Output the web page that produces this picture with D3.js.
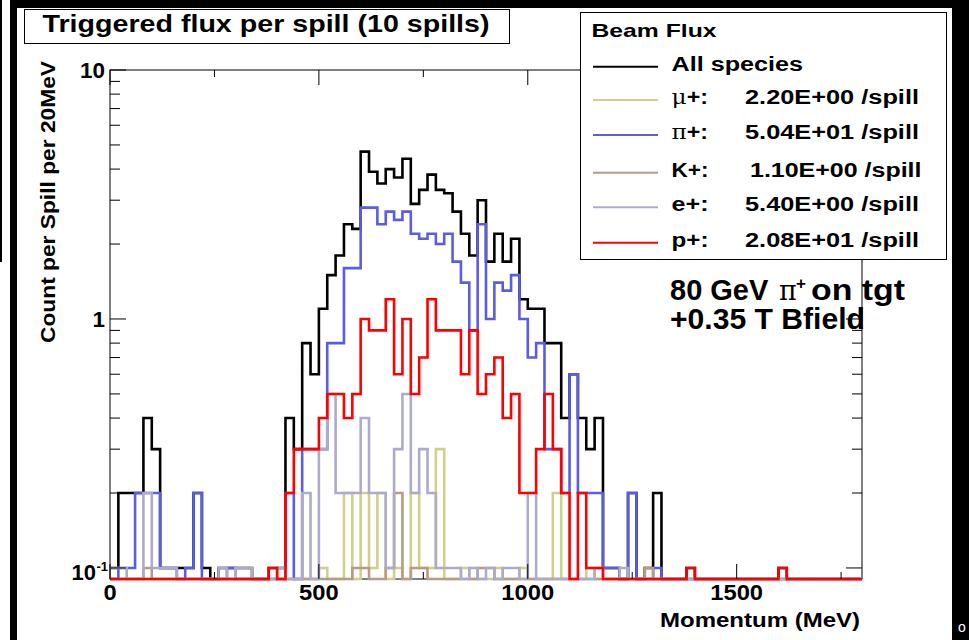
<!DOCTYPE html>
<html><head><meta charset="utf-8">
<script src="https://cdn.jsdelivr.net/npm/d3@7"></script>
<style>
html,body{margin:0;padding:0;background:#fff;}
svg{display:block;}
text{font-family:"Liberation Sans",Arial,Helvetica,sans-serif;font-weight:bold;fill:#000;}
</style></head>
<body>
<svg id="c" width="969" height="640"></svg>
<script>
// ---------- data (per-spill counts per 20 MeV bin, 0..1800 MeV) ----------
const binEdges = d3.range(0, 1801, 20);
const allSpecies = [0.1,0.2,0.2,0.2,0.4,0.3,0.1,0.1,0.1,0.1,
  0.2,0.1,0,0.1,0.1,0.1,0.1,0,0,0.1,
  0.1,0.4,0.3,0.8,0.6,1.1,1.5,1.8,2.4,2.3,
  4.7,3.9,3.5,4.0,3.7,4.4,2.9,3.3,3.8,3.3,
  3.2,2.7,2.2,1.8,3.0,1.7,2.2,1.7,2.1,1.2,
  1.1,1.1,0.8,0.8,0.4,0.6,0.4,0.3,0.4,0.1,
  0.1,0,0.2,0,0.1,0.2,0,0,0,0.1,
  0,0,0,0,0,0,0,0,0,0,
  0.1,0,0,0,0,0,0,0,0,0];
const muPlus = [0,0,0,0,0,0,0,0,0,0,
  0,0,0,0,0,0,0,0,0,0,
  0,0,0,0,0,0.1,0,0,0.2,0,
  0.2,0.1,0.2,0,0.1,0,0.2,0.1,0.1,0.3,
  0,0,0.1,0,0,0,0.1,0,0,0.1,
  0,0,0,0.2,0,0,0,0.1,0,0,
  0,0,0,0,0,0,0,0,0,0,
  0,0,0,0,0,0,0,0,0,0,
  0,0,0,0,0,0,0,0,0,0];
const piPlus = [0,0.1,0.1,0.2,0.2,0.2,0.1,0.1,0,0.1,
  0.2,0,0,0,0.1,0,0,0,0,0,
  0,0.2,0,0.3,0.3,0.3,0.8,0.8,1.6,1.6,
  2.8,2.8,2.4,2.7,2.5,2.7,2.2,2.1,2.2,2.0,
  2.2,1.7,1.4,0.9,2.4,1.0,1.4,1.3,1.5,1.0,
  0.7,0.8,0.3,0.3,0.2,0.6,0.2,0.2,0.2,0.1,
  0.1,0,0.2,0,0,0.1,0,0,0,0,
  0,0,0,0,0,0,0,0,0,0,
  0,0,0,0,0,0,0,0,0,0];
const kPlus = [0,0,0,0,0.1,0,0,0,0,0,
  0,0,0,0,0,0,0,0,0,0,
  0,0,0,0,0,0,0,0,0,0.1,
  0.1,0,0,0.1,0.2,0,0.1,0.1,0,0,
  0,0,0,0,0.1,0.1,0,0,0,0,
  0,0,0,0,0,0,0,0,0,0,
  0,0,0,0,0.1,0,0,0,0,0,
  0,0,0,0,0,0,0,0,0,0,
  0,0,0,0,0,0,0,0,0,0];
const ePlus = [0.1,0.1,0,0,0.2,0.1,0.1,0.1,0,0,
  0,0,0,0.1,0,0.1,0.1,0,0,0,
  0.1,0,0,0.2,0,0.3,0.5,0.2,0.2,0.2,
  0.4,0.2,0.2,0.1,0.3,0.5,0.2,0.3,0.2,0.1,
  0.1,0.1,0,0.1,0,0.1,0,0.1,0.1,0,
  0.2,0,0,0,0,0,0,0,0.1,0,
  0,0.1,0,0,0,0,0,0,0,0,
  0,0,0,0,0,0,0,0,0,0,
  0,0,0,0,0,0,0,0,0,0];
const pPlus = [0,0,0,0,0,0,0,0,0,0,
  0,0,0,0,0,0,0,0,0,0.1,
  0,0.2,0.3,0.3,0.3,0.4,0.5,0.5,0.4,0.5,
  1.0,0.9,0.9,1.2,0.6,1.0,0.5,0.7,1.2,0.9,
  0.9,0.9,0.6,0.9,0.5,0.6,0.7,0.4,0.5,0.2,
  0.2,0.3,0.5,0.3,0.2,0,0.2,0.1,0.1,0,
  0,0,0,0,0,0,0,0,0,0.1,
  0,0,0,0,0,0,0,0,0,0,
  0.1,0,0,0,0,0,0,0,0,0];

const seriesSymbols = ["", "\u03bc", "\u03c0", "", "", ""];
const seriesNames = ["All species","+:","+:","K+:","e+:","p+:"];
const seriesTotals = ["","2.20E+00 /spill","5.04E+01 /spill","1.10E+00 /spill","5.40E+00 /spill","2.08E+01 /spill"];
const seriesColors = ["#000000","#d2ce8c","#5b5be3","#b89c82","#adabca","#ff0000"];
const seriesData = [allSpecies, muPlus, piPlus, kPlus, ePlus, pPlus];
const xTickValues = [0,500,1000,1500];
const xMinorTicks = [250,750,1250,1750];

// ---------- layout ----------
const svg = d3.select("#c");
const L = 110, R = 862, T = 70, B = 579;
const yMin = 0.0903;
const x = d3.scaleLinear().domain([0,1800]).range([L,R]);
const y = d3.scaleLog().domain([yMin,10]).range([B,T]);
const yv = v => y(Math.max(v, yMin));
const stretch = (sel,w) => sel.attr("textLength",w).attr("lengthAdjust","spacingAndGlyphs");

// window chrome (black borders of the screenshot)
svg.append("rect").attr("x",0).attr("y",0).attr("width",969).attr("height",640).attr("fill","#fff");
svg.append("rect").attr("x",17).attr("y",0).attr("width",952).attr("height",8).attr("fill","#000");
svg.append("rect").attr("x",10).attr("y",0).attr("width",7).attr("height",640).attr("fill","#000");
svg.append("rect").attr("x",952).attr("y",0).attr("width",17).attr("height",640).attr("fill","#000");
svg.append("line").attr("x1",1).attr("x2",1).attr("y1",0).attr("y2",262).attr("stroke","#000").attr("stroke-width",2);
svg.append("text").attr("x",958).attr("y",632).style("font-size","14px").style("fill","#fff").style("font-weight","normal").text("o");

// frame
svg.append("rect").attr("x",L).attr("y",T).attr("width",R-L).attr("height",B-T)
  .attr("fill","none").attr("stroke","#000").attr("stroke-width",1);

// histograms
svg.append("clipPath").attr("id","clip").append("rect")
  .attr("x",L).attr("y",T).attr("width",R-L).attr("height",B-T+2);
const line = d3.line().x(d=>x(d[0])).y(d=>yv(d[1])).curve(d3.curveStepAfter);
const g = svg.append("g").attr("clip-path","url(#clip)");
seriesData.forEach((vals,i)=>{
  const pts = vals.map((v,j)=>[binEdges[j],v]);
  pts.push([binEdges[vals.length], vals[vals.length-1]]);
  g.append("path").attr("d",line(pts)).attr("fill","none")
    .attr("stroke",seriesColors[i]).attr("stroke-width",2.6);
});

// axes ticks
const ax = svg.append("g").attr("stroke","#000").attr("stroke-width",1);
xTickValues.forEach(v=>{
  ax.append("line").attr("x1",x(v)).attr("x2",x(v)).attr("y1",B).attr("y2",B-15);
  ax.append("line").attr("x1",x(v)).attr("x2",x(v)).attr("y1",T).attr("y2",T+15);
});
xMinorTicks.forEach(v=>{
  ax.append("line").attr("x1",x(v)).attr("x2",x(v)).attr("y1",B).attr("y2",B-7);
  ax.append("line").attr("x1",x(v)).attr("x2",x(v)).attr("y1",T).attr("y2",T+7);
});
const yMajor = [0.1,1,10];
const yMinor = [];
[0.1,1].forEach(d=>{for(let k=2;k<=9;k++) yMinor.push(d*k);});
yMajor.forEach(v=>{
  ax.append("line").attr("x1",L).attr("x2",L+16).attr("y1",y(v)).attr("y2",y(v));
  ax.append("line").attr("x1",R).attr("x2",R-16).attr("y1",y(v)).attr("y2",y(v));
});
yMinor.forEach(v=>{
  ax.append("line").attr("x1",L).attr("x2",L+10).attr("y1",y(v)).attr("y2",y(v));
  ax.append("line").attr("x1",R).attr("x2",R-10).attr("y1",y(v)).attr("y2",y(v));
});

// tick labels
xTickValues.forEach(v=>{
  const t = svg.append("text").attr("x",x(v)).attr("y",600).attr("text-anchor","middle")
    .style("font-size","22px").text(v);
  stretch(t, 13.2*String(v).length);
});
stretch(svg.append("text").attr("x",105).attr("y",78).attr("text-anchor","end").style("font-size","22px").text("10"),25);
stretch(svg.append("text").attr("x",105).attr("y",y(1)+8).attr("text-anchor","end").style("font-size","22px").text("1"),12.5);
svg.append("text").attr("x",96).attr("y",580).attr("text-anchor","end").style("font-size","22px").text("10");
svg.append("text").attr("x",96.5).attr("y",571).style("font-size","13px").text("-1");

// axis titles
stretch(svg.append("text").attr("x",860).attr("y",627).attr("text-anchor","end").style("font-size","20px").text("Momentum (MeV)"),200);
stretch(svg.append("text").attr("transform","translate(55,61) rotate(-90)").attr("text-anchor","end")
  .style("font-size","20px").text("Count per Spill per 20MeV"),282);

// title box
svg.append("rect").attr("x",24.5).attr("y",9.5).attr("width",485).attr("height",34).attr("fill","#fff").attr("stroke","#000").attr("stroke-width",1);
stretch(svg.append("text").attr("x",266).attr("y",32).attr("text-anchor","middle").style("font-size","24px").text("Triggered flux per spill (10 spills)"),447);

// legend
svg.append("rect").attr("x",580.5).attr("y",12.5).attr("width",366).attr("height",247).attr("fill","#fff").attr("stroke","#000").attr("stroke-width",1);
stretch(svg.append("text").attr("x",591.5).attr("y",37).style("font-size","19px").text("Beam Flux"),125);
const legY = [66.7,100,135,172.7,207.3,242.7];
seriesNames.forEach((nm,i)=>{
  svg.append("line").attr("x1",593).attr("x2",658).attr("y1",legY[i]).attr("y2",legY[i])
    .attr("stroke",seriesColors[i]).attr("stroke-width",2);
  const t = svg.append("text").attr("x",671.5).attr("y",legY[i]+3.8).style("font-size","19.5px");
  if(seriesSymbols[i]){
    t.append("tspan").style("font-weight","normal").style("font-family","'DejaVu Serif',serif").text(seriesSymbols[i]);
    t.append("tspan").text(nm);
    stretch(t, 36.5);
  } else {
    t.text(nm);
    stretch(t, i===0 ? 131.5 : 37);
  }
  if(seriesTotals[i]) stretch(svg.append("text").attr("x", i===3 ? 750 : 745).attr("y",legY[i]+3.8)
    .style("font-size","19.5px").text(seriesTotals[i]), i===3 ? 171.5 : 174);
});

// annotation
svg.append("text").attr("x",670).attr("y",300).style("font-size","29px").text("80 GeV");
svg.append("text").attr("x",779).attr("y",300).style("font-size","27px").style("font-weight","normal")
  .style("font-family","'DejaVu Serif',serif").text("\u03c0");
svg.append("text").attr("x",796).attr("y",289).style("font-size","17px").text("+");
stretch(svg.append("text").attr("x",811).attr("y",300).style("font-size","29px").text("on tgt"),94);
stretch(svg.append("text").attr("x",670).attr("y",329).style("font-size","29px").text("+0.35 T Bfield"),195);
</script>
</body></html>
